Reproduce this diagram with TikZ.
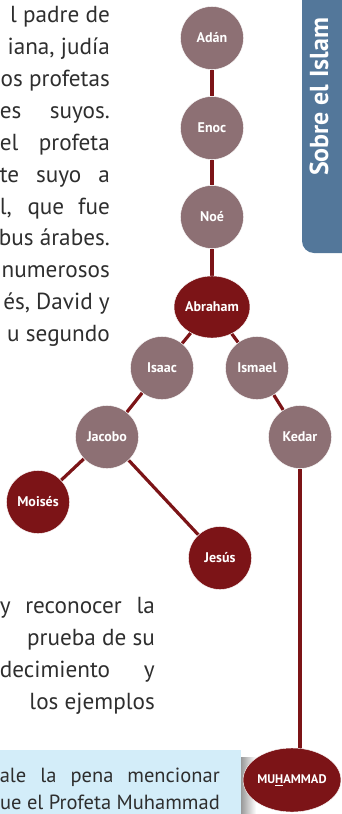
\documentclass[tikz,border=0pt]{standalone}
\usepackage{fontspec}
\setmainfont{PT Sans}
\usepackage{tikz}
\usetikzlibrary{shapes.geometric,positioning,backgrounds}

\definecolor{tabblue}{HTML}{53779A}
\definecolor{boxblue}{HTML}{D3EDF9}
\definecolor{mauve}{HTML}{8D7074}
\definecolor{darkred}{HTML}{7C1417}
\definecolor{bodytext}{HTML}{2E2E2E}

\tikzset{
    prophet/.style={circle, draw=white, thin, fill=mauve, minimum size=63pt, inner sep=0pt,
        text=white, font=\fontsize{14}{14}\selectfont\bfseries},
    chosen/.style={prophet, fill=darkred},
    chosenoval/.style={ellipse, draw=white, thin, fill=darkred, minimum width=75pt, minimum height=62pt,
        inner sep=0pt, text=white, font=\fontsize{14}{14}\selectfont\bfseries},
    link/.style={draw=darkred, line width=3.2pt},
    line/.style={anchor=base east, inner sep=0pt, text=bodytext, font=\fontsize{23.2}{23.2}\selectfont},
    noteline/.style={line, font=\fontsize{20.5}{20.5}\selectfont}
}

\begin{document}
\begin{tikzpicture}[x=1pt,y=-1pt]
        \useasboundingbox (0,0) rectangle (342,814);
        \clip (0,0) rectangle (342,814);

        % side tab
        \fill[tabblue, rounded corners=12pt] (302,-20) -- (302,253) -- (360,253) -- (360,-20) -- cycle;
        \node (Tab)[rotate=90, text=white, font=\fontsize{26}{26}\selectfont\bfseries] at (319,97) {Sobre el Islam};

        % text column, top
        \node (T1)[line] at (110,22) {l padre de};
        \node (T2)[line] at (110,54) {iana, judía};
        \node (T3)[line] at (110,86) {os profetas};
        \node (T4)[line] at (110,118) {\makebox[110pt][s]{es suyos.}};
        \node (T5)[line] at (110,150) {\makebox[110pt][s]{el profeta}};
        \node (T6)[line] at (110,182) {\makebox[110pt][s]{te suyo a}};
        \node (T7)[line] at (110,214) {\makebox[110pt][s]{l, que fue}};
        \node (T8)[line] at (110,245) {bus árabes.};
        \node (T9)[line] at (110,277) {numerosos};
        \node (T10)[line] at (110,309) {és, David y};
        \node (T11)[line] at (110,341) {u segundo};

        % text column, bottom
        \node (B1)[line] at (155,613) {\makebox[155pt][s]{y reconocer la}};
        \node (B2)[line] at (155,645) {prueba de su};
        \node (B3)[line] at (155,677) {\makebox[155pt][s]{decimiento y}};
        \node (B4)[line] at (155,709) {los ejemplos};

        % note box
        \shade[left color=black!40, right color=white] (241,757) rectangle (256,814);
        \fill[boxblue] (-5,750) rectangle (241,820);
        \node (N1)[noteline] at (220,782) {\makebox[220pt][s]{ale la pena mencionar}};
        \node (N2)[noteline] at (220,809) {ue el Profeta Muhammad};

        % family tree
        \node (Adan)[prophet] at (212,38) {Adán};
        \node (Enoc)[prophet] at (212,128) {Enoc};
        \node (Noe)[prophet] at (212,217) {Noé};
        \node (Abraham)[chosenoval] at (212,307) {Abraham};
        \node (Isaac)[prophet] at (162,368) {Isaac};
        \node (Ismael)[prophet] at (257,368) {Ismael};
        \node (Jacobo)[prophet] at (107,437) {Jacobo};
        \node (Kedar)[prophet] at (300,437) {Kedar};
        \node (Moises)[chosen] at (38,502) {Moisés};
        \node (Jesus)[chosen] at (220,558) {Jesús};
        \node (Muhammad)[chosenoval, minimum width=82pt, minimum height=64pt,
            font=\fontsize{12.5}{12.5}\selectfont\bfseries] at (292,780) {MU\underline{H}AMMAD};

        \begin{scope}[on background layer]
            \draw [link] (Adan) -- (Enoc);
            \draw [link] (Enoc) -- (Noe);
            \draw [link] (Noe) -- (Abraham);
            \draw [link] (Abraham) -- (Isaac);
            \draw [link] (Abraham) -- (Ismael);
            \draw [link] (Isaac) -- (Jacobo);
            \draw [link] (Jacobo) -- (Moises);
            \draw [link] (Jacobo) -- (Jesus);
            \draw [link] (Ismael) -- (Kedar);
            \draw [link] (Kedar) -- (Kedar |- Muhammad.center);
        \end{scope}
    \end{tikzpicture}
\end{document}
